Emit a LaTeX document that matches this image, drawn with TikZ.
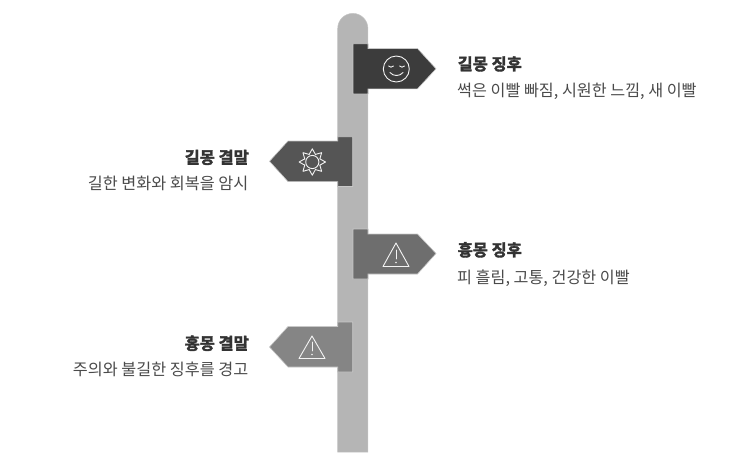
\documentclass[tikz,border=0pt]{standalone}
\usepackage{fontspec}
\setmainfont{Noto Sans CJK KR}[Scale=1]
\newfontfamily\titlefont{Noto Sans CJK KR Bold}[FakeBold=2.2]
\tikzset{
  pole/.style={fill=polegray,draw=polegray!80!white,line width=.5pt},
  flag/.style={draw=flagedge,line width=.6pt,line join=miter},
  icon/.style={draw=iconline,line width=.9pt,line join=round,line cap=round},
  headR/.style={anchor=base west,inner sep=0pt,font=\titlefont\fontsize{16.4}{18}\selectfont,text=titlegray},
  headL/.style={anchor=base east,inner sep=0pt,font=\titlefont\fontsize{16.4}{18}\selectfont,text=titlegray},
  bodyR/.style={anchor=base west,inner sep=0pt,font=\fontsize{16.2}{18}\selectfont,text=bodygray},
  bodyL/.style={anchor=base east,inner sep=0pt,font=\fontsize{16.25}{18}\selectfont,text=bodygray},
}
\definecolor{polegray}{HTML}{B5B5B5}
\definecolor{flagedge}{HTML}{C8C8C8}
\definecolor{iconline}{HTML}{F4F4F4}
\definecolor{titlegray}{HTML}{333333}
\definecolor{bodygray}{HTML}{4A4A4A}
\definecolor{fa}{HTML}{3C3C3C}
\definecolor{fb}{HTML}{555555}
\definecolor{fc}{HTML}{6E6E6E}
\definecolor{fd}{HTML}{858585}
\begin{document}
\begin{tikzpicture}[x=1pt,y=-1pt]
\useasboundingbox (0,0) rectangle (739,466);
% pole
\draw[pole] (337.7,452) -- (337.7,28.5) arc[start angle=180,end angle=360,radius=15.1] -- (367.9,452) -- cycle;
% flags
\draw[flag,fill=fa] (353,43.8) -- (368,43.8) -- (368,48.5) -- (417.5,48.5) -- (436,68.8) -- (417.5,88.8) -- (368,88.8) -- (368,93.8) -- (353,93.8) -- cycle;
\draw[flag,fill=fb] (352.7,136.8) -- (337.7,136.8) -- (337.7,141) -- (288,141) -- (269.5,161.3) -- (288,181.6) -- (337.7,181.6) -- (337.7,186.5) -- (352.7,186.5) -- cycle;
\draw[flag,fill=fc] (353,229) -- (368,229) -- (368,234) -- (417.5,234) -- (436,253.5) -- (417.5,274) -- (368,274) -- (368,279) -- (353,279) -- cycle;
\draw[flag,fill=fd] (352.7,322) -- (337.7,322) -- (337.7,326.5) -- (288,326.5) -- (269.5,347) -- (288,367) -- (337.7,367) -- (337.7,372) -- (352.7,372) -- cycle;
% smile icon
\draw[icon] (396.3,69) circle (13);
\draw[icon] (388.5,66) .. controls (390,67.6) and (392,67.6) .. (393.5,66);
\draw[icon] (399.5,66) .. controls (401,67.6) and (403,67.6) .. (404.5,66);
\draw[icon] (390,72.5) .. controls (393,76.5) and (400,76.5) .. (403,72.5);
% sun icon
\draw[icon] (312.3,162) circle (6.6);
\foreach \a in {0,45,...,315}{
  \draw[icon] ({312.3+8.2*cos(\a-22.5)},{162+8.2*sin(\a-22.5)}) -- ({312.3+13.2*cos(\a)},{162+13.2*sin(\a)}) -- ({312.3+8.2*cos(\a+22.5)},{162+8.2*sin(\a+22.5)});
}
% warning icons
\draw[icon] (396,243) -- (409,266.5) -- (383,266.5) -- cycle;
\draw[icon] (396,250) -- (396,259);
\fill[iconline] (396,262.5) circle (.8);
\draw[icon] (312,336) -- (325,358.5) -- (299,358.5) -- cycle;
\draw[icon] (312,342) -- (312,351);
\fill[iconline] (312,354.5) circle (.8);
% texts
\node[headR] (t1) at (457.5,70) {길몽 징후};
\node[bodyR] (b1) at (457,96.5) {썩은 이빨 빠짐, 시원한 느낌, 새 이빨};
\node[headL] (t2) at (249,163.5) {길몽 결말};
\node[bodyL] (b2) at (248.5,189) {길한 변화와 회복을 암시};
\node[headR] (t3) at (457.5,256) {흉몽 징후};
\node[bodyR] (b3) at (457,283) {피 흘림, 고통, 건강한 이빨};
\node[headL] (t4) at (249,349.5) {흉몽 결말};
\node[bodyL] (b4) at (248.5,375.5) {주의와 불길한 징후를 경고};
\end{tikzpicture}
\end{document}
